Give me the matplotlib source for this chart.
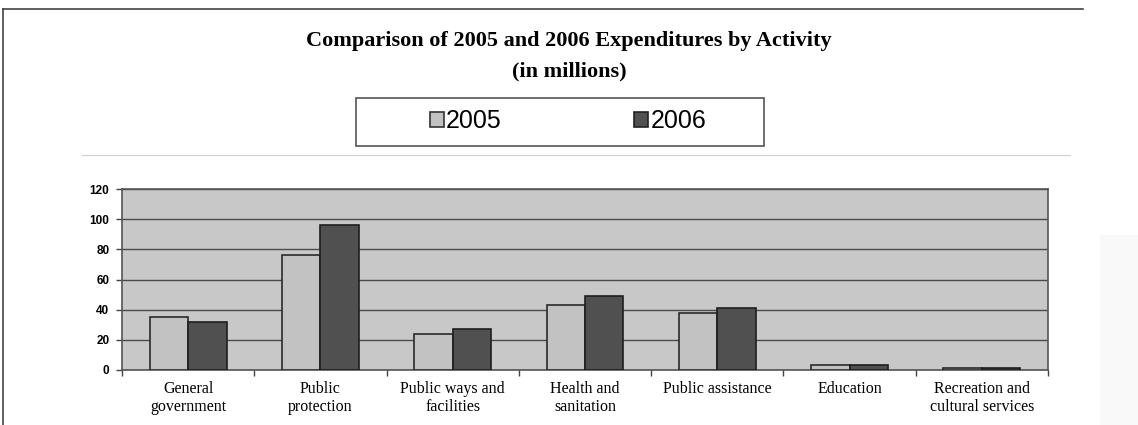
import matplotlib
matplotlib.use("Agg")
import matplotlib.pyplot as plt
import numpy as np
from matplotlib.patches import Rectangle, Patch
from matplotlib.lines import Line2D

categories = ["General\ngovernment", "Public\nprotection", "Public ways and\nfacilities",
              "Health and\nsanitation", "Public assistance", "Education",
              "Recreation and\ncultural services"]
values_2005 = [35, 76, 24, 43, 38, 3, 1.5]
values_2006 = [32, 96, 27, 49, 41, 3, 1.5]
series_labels = ["2005", "2006"]
yticks = [0, 20, 40, 60, 80, 100, 120]

W, H = 1138, 425
fig = plt.figure(figsize=(W / 100, H / 100), dpi=100)
fig.patch.set_facecolor("white")

def fx(px):
    return px / W

def fy(py):
    return 1 - py / H

# outer frame lines
fig.add_artist(Line2D([fx(3), fx(1083)], [fy(9), fy(9)], color="#444444", lw=1.2))
fig.add_artist(Line2D([fx(3), fx(3)], [fy(9), fy(425)], color="#444444", lw=1.2))
# faint separator line
fig.add_artist(Line2D([fx(82), fx(1070)], [fy(155), fy(155)], color="#cfcfcf", lw=0.8))
# faint right panel
fig.add_artist(Rectangle((fx(1100), 0), fx(38), fy(235), transform=fig.transFigure,
                         facecolor="#f9f9f9", edgecolor="none", zorder=0))

serif = ["Liberation Serif", "DejaVu Serif"]
sans = ["Liberation Sans", "DejaVu Sans"]

fig.text(0.5, fy(41), "Comparison of 2005 and 2006 Expenditures by Activity",
         ha="center", va="center", fontsize=16, fontweight="bold", family=serif)
fig.text(0.5, fy(71), "(in millions)", ha="center", va="center",
         fontsize=16, fontweight="bold", family=serif)

ax = fig.add_axes([fx(122), fy(370), fx(1048) - fx(122), fy(189) - fy(370)])
ax.set_facecolor("#c8c8c8")
x = np.arange(len(categories))
w = 0.29
c05 = "#c2c2c2"
c06 = "#505050"
ax.bar(x - w / 2, values_2005, w, color=c05, edgecolor="#2a2a2a", linewidth=1.2, zorder=3)
ax.bar(x + w / 2, values_2006, w, color=c06, edgecolor="#1e1e1e", linewidth=1.2, zorder=3)

ax.set_xlim(-0.5, len(categories) - 0.5)
ax.set_ylim(0, 120)
ax.set_yticks(yticks)
ax.set_yticklabels([str(t) for t in yticks], fontsize=8.5, fontweight="bold", family=sans)
ax.yaxis.grid(True, color="#4a4a4a", linewidth=1.0, zorder=1)
ax.set_axisbelow(True)
ax.tick_params(axis="y", length=4, width=1, color="#444444", pad=5)

ax.set_xticks(np.arange(len(categories) + 1) - 0.5, minor=False)
ax.set_xticklabels([])
ax.tick_params(axis="x", which="major", length=4, width=1, color="#444444")
ax.set_xticks(x, minor=True)
ax.set_xticklabels(categories, minor=True, fontsize=11.5, family=serif, linespacing=1.15)
ax.tick_params(axis="x", which="minor", length=0, pad=8)

for s in ax.spines.values():
    s.set_color("#555555")
    s.set_linewidth(1.2)

# legend frame and legend
fig.add_artist(Rectangle((fx(356), fy(146)), fx(764) - fx(356), fy(98) - fy(146),
                         transform=fig.transFigure, facecolor="white",
                         edgecolor="#555555", linewidth=1.2, zorder=2))
handles = [Patch(facecolor=c05, edgecolor="#333333", linewidth=1.2),
           Patch(facecolor=c06, edgecolor="#222222", linewidth=1.2)]
leg = fig.legend(handles, series_labels, loc="center", bbox_to_anchor=(fx(568), fy(121)),
                 ncol=2, frameon=False, prop={"family": sans, "size": 18},
                 handlelength=0.55, handleheight=0.55, handletextpad=0.1, columnspacing=5.3)
leg.set_zorder(5)

fig.savefig("out.png", dpi=100, facecolor="white")
